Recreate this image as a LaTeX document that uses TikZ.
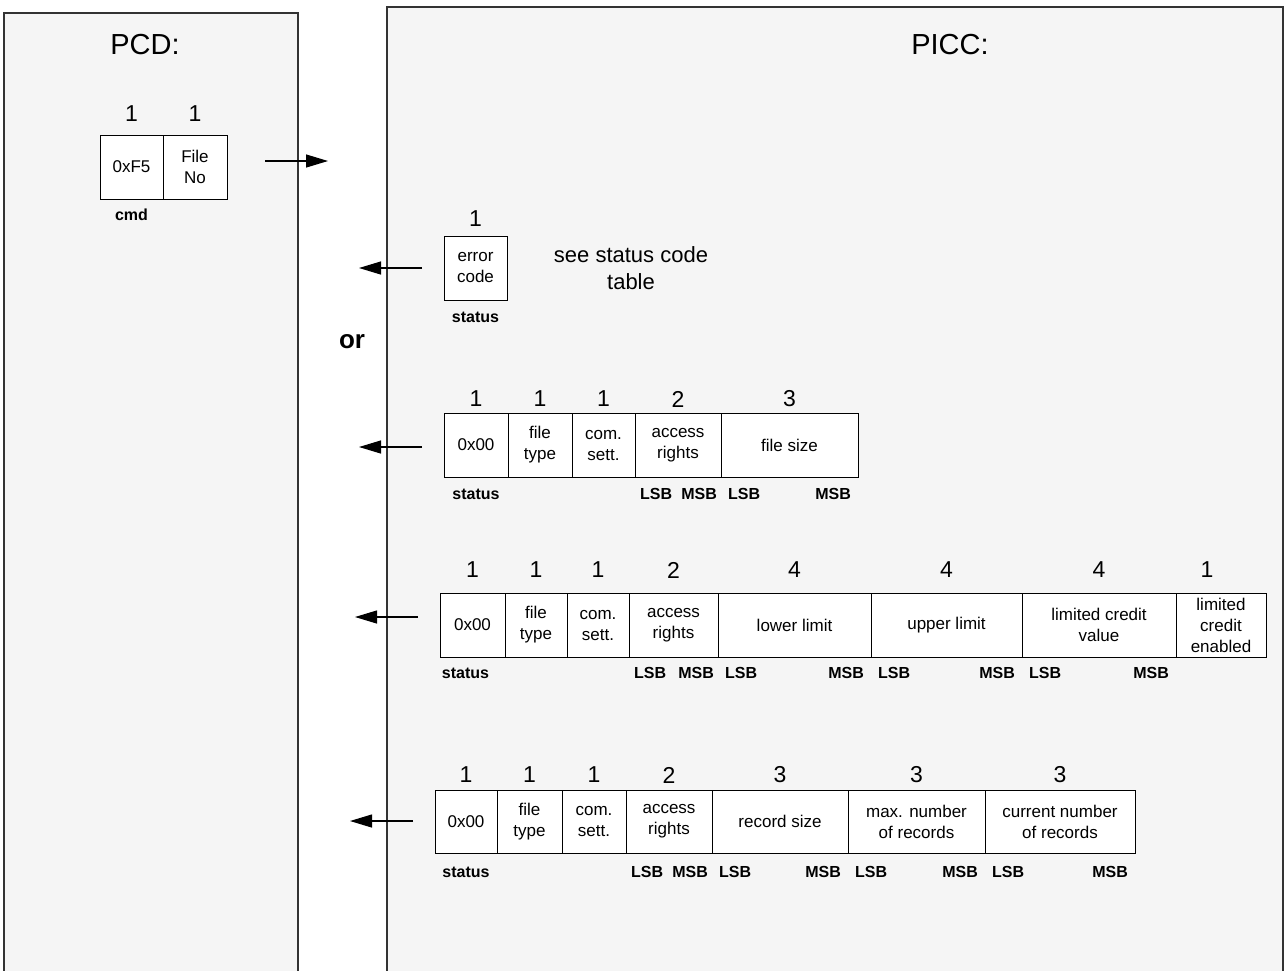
\documentclass[tikz,border=0pt]{standalone}
\usepackage{fontspec}
\setmainfont{Liberation Sans}
\usetikzlibrary{arrows.meta,positioning}

\tikzset{
  cell/.style={draw,fill=white,line width=0.9pt,inner sep=0pt,outer sep=0pt,
    minimum height=64pt,align=center,font=\fontsize{17}{21}\selectfont},
  num/.style={inner sep=0pt,font=\fontsize{23}{23}\selectfont},
  tag/.style={inner sep=0pt,font=\bfseries\fontsize{16}{16}\selectfont},
  reply/.style={-{Triangle[length=22pt,width=13pt]},line width=1.2pt},
  panel/.style={fill=black!4,draw=black!80,line width=1.5pt}
}

\begin{document}
\begin{tikzpicture}[x=1pt,y=-1pt]
\useasboundingbox (0,0) rectangle (1284,970);
\fill[white] (0,0) rectangle (1284,970);
% the two sides
\draw[panel] (4,13) rectangle (298,990);
\draw[panel] (387,7) rectangle (1283,990);
\node[font=\fontsize{29}{29}\selectfont] (pcd) at (145,45) {PCD:};
\node[font=\fontsize{29}{29}\selectfont] (picc) at (950,45) {PICC:};

% command
\node[cell,anchor=north west,minimum width=63pt] (c0a) at (100,135) {0xF5};
\node[cell,minimum width=64pt,right=0pt of c0a] (c0b) {File\\No};
\node[num] (n0a) at (c0a.north |- 0,114) {1};
\node[num] (n0b) at (c0b.north |- 0,114) {1};
\node[tag] (t0a) at (c0a.south |- 0,215) {cmd};
\coordinate (a0) at (265,161);
\coordinate (b0) at (328,161);
\draw[reply] (a0) -- (b0);

% error
\node[cell,anchor=north west,minimum width=63pt] (c1a) at (444,236) {error\\code};
\node[num] (n1a) at (c1a.north |- 0,219) {1};
\node[tag] (t1a) at (c1a.south |- 0,317) {status};
\node[align=center,font=\fontsize{22}{27}\selectfont] (see) at (631,268) {see status code\\table};
\coordinate (a1) at (422,268);
\coordinate (b1) at (359,268);
\draw[reply] (a1) -- (b1);
\node[font=\bfseries\fontsize{26}{26}\selectfont] (or) at (352,342) {or};

% standard / backup data file
\node[cell,anchor=north west,minimum width=64pt] (c2a) at (444,413) {0x00};
\node[cell,minimum width=64pt,right=0pt of c2a] (c2b) {file\\type};
\node[cell,minimum width=63pt,right=0pt of c2b] (c2c) {com.\\sett.};
\node[cell,minimum width=86pt,right=0pt of c2c] (c2d) {access\\rights};
\node[cell,minimum width=137pt,right=0pt of c2d] (c2e) {file size};
\node[num] (n2a) at (c2a.north |- 0,399) {1};
\node[num] (n2b) at (c2b.north |- 0,399) {1};
\node[num] (n2c) at (c2c.north |- 0,399) {1};
\node[num] (n2d) at (c2d.north |- 0,399) {2};
\node[num] (n2e) at (c2e.north |- 0,399) {3};
\node[tag] (t2a) at (c2a.south |- 0,494) {status};
\node[tag,anchor=west,xshift=5pt] (t2d) at (c2d.west |- 0,494) {LSB};
\node[tag,anchor=east,xshift=-4pt] (u2d) at (c2d.east |- 0,494) {MSB};
\node[tag,anchor=west,xshift=7pt] (t2e) at (c2e.west |- 0,494) {LSB};
\node[tag,anchor=east,xshift=-7pt] (u2e) at (c2e.east |- 0,494) {MSB};
\coordinate (a2) at (422,447);
\coordinate (b2) at (359,447);
\draw[reply] (a2) -- (b2);

% value file
\node[cell,anchor=north west,minimum width=65pt] (c3a) at (440,593) {0x00};
\node[cell,minimum width=62pt,right=0pt of c3a] (c3b) {file\\type};
\node[cell,minimum width=62pt,right=0pt of c3b] (c3c) {com.\\sett.};
\node[cell,minimum width=89pt,right=0pt of c3c] (c3d) {access\\rights};
\node[cell,minimum width=153pt,right=0pt of c3d] (c3e) {lower limit};
\node[cell,minimum width=151pt,right=0pt of c3e] (c3f) {upper limit};
\node[cell,minimum width=154pt,right=0pt of c3f] (c3g) {limited credit\\value};
\node[cell,minimum width=90pt,right=0pt of c3g] (c3h) {limited\\credit\\enabled};
\node[num] (n3a) at (c3a.north |- 0,570) {1};
\node[num] (n3b) at (c3b.north |- 0,570) {1};
\node[num] (n3c) at (c3c.north |- 0,570) {1};
\node[num] (n3d) at (c3d.north |- 0,570) {2};
\node[num] (n3e) at (c3e.north |- 0,570) {4};
\node[num] (n3f) at (c3f.north |- 0,570) {4};
\node[num] (n3g) at (c3g.north |- 0,570) {4};
\node[num,xshift=-14pt] (n3h) at (c3h.north |- 0,570) {1};
\node[tag,xshift=-7pt] (t3a) at (c3a.south |- 0,673) {status};
\node[tag,anchor=west,xshift=5pt] (t3d) at (c3d.west |- 0,673) {LSB};
\node[tag,anchor=east,xshift=-4pt] (u3d) at (c3d.east |- 0,673) {MSB};
\node[tag,anchor=west,xshift=7pt] (t3e) at (c3e.west |- 0,673) {LSB};
\node[tag,anchor=east,xshift=-7pt] (u3e) at (c3e.east |- 0,673) {MSB};
\node[tag,anchor=west,xshift=7pt] (t3f) at (c3f.west |- 0,673) {LSB};
\node[tag,anchor=east,xshift=-7pt] (u3f) at (c3f.east |- 0,673) {MSB};
\node[tag,anchor=west,xshift=7pt] (t3g) at (c3g.west |- 0,673) {LSB};
\node[tag,anchor=east,xshift=-7pt] (u3g) at (c3g.east |- 0,673) {MSB};
\coordinate (a3) at (418,617);
\coordinate (b3) at (355,617);
\draw[reply] (a3) -- (b3);

% record file
\node[cell,anchor=north west,minimum width=62pt,minimum height=63pt] (c4a) at (435,790) {0x00};
\node[cell,minimum width=65pt,minimum height=63pt,right=0pt of c4a] (c4b) {file\\type};
\node[cell,minimum width=64pt,minimum height=63pt,right=0pt of c4b] (c4c) {com.\\sett.};
\node[cell,minimum width=86pt,minimum height=63pt,right=0pt of c4c] (c4d) {access\\rights};
\node[cell,minimum width=136pt,minimum height=63pt,right=0pt of c4d] (c4e) {record size};
\node[cell,minimum width=137pt,minimum height=63pt,right=0pt of c4e] (c4f) {max. number\\of records};
\node[cell,minimum width=150pt,minimum height=63pt,right=0pt of c4f] (c4g) {current number\\of records};
\node[num] (n4a) at (c4a.north |- 0,775) {1};
\node[num] (n4b) at (c4b.north |- 0,775) {1};
\node[num] (n4c) at (c4c.north |- 0,775) {1};
\node[num] (n4d) at (c4d.north |- 0,775) {2};
\node[num] (n4e) at (c4e.north |- 0,775) {3};
\node[num] (n4f) at (c4f.north |- 0,775) {3};
\node[num] (n4g) at (c4g.north |- 0,775) {3};
\node[tag] (t4a) at (c4a.south |- 0,872) {status};
\node[tag,anchor=west,xshift=5pt] (t4d) at (c4d.west |- 0,872) {LSB};
\node[tag,anchor=east,xshift=-4pt] (u4d) at (c4d.east |- 0,872) {MSB};
\node[tag,anchor=west,xshift=7pt] (t4e) at (c4e.west |- 0,872) {LSB};
\node[tag,anchor=east,xshift=-7pt] (u4e) at (c4e.east |- 0,872) {MSB};
\node[tag,anchor=west,xshift=7pt] (t4f) at (c4f.west |- 0,872) {LSB};
\node[tag,anchor=east,xshift=-7pt] (u4f) at (c4f.east |- 0,872) {MSB};
\node[tag,anchor=west,xshift=7pt] (t4g) at (c4g.west |- 0,872) {LSB};
\node[tag,anchor=east,xshift=-7pt] (u4g) at (c4g.east |- 0,872) {MSB};
\coordinate (a4) at (413,821);
\coordinate (b4) at (350,821);
\draw[reply] (a4) -- (b4);
\end{tikzpicture}
\end{document}
